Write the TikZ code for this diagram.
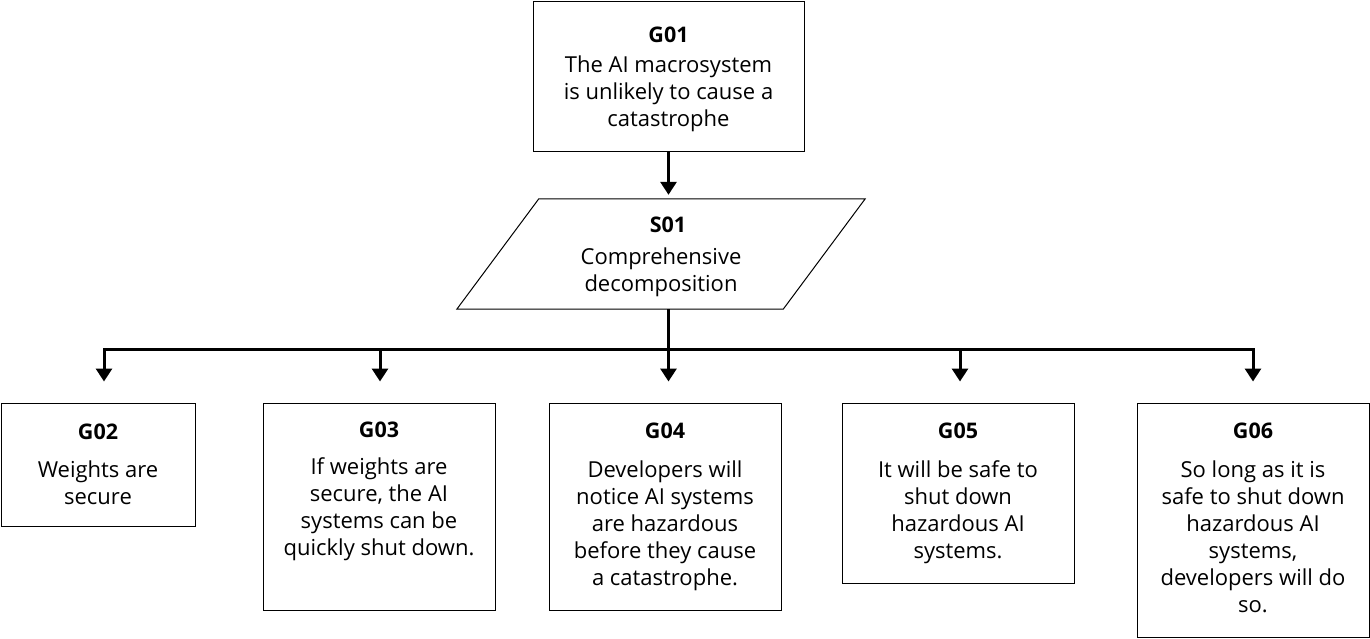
\documentclass[tikz,border=0pt]{standalone}
\usepackage{fontspec}
\setmainfont{Open Sans}
\usetikzlibrary{arrows.meta,calc}
\tikzset{
  box/.style={draw=black, line width=1pt, inner sep=0pt, fill=white},
  ghost/.style={inner sep=0pt},
  lbl/.style={font=\fontsize{21.5}{27}\selectfont\bfseries, inner sep=0pt, anchor=base},
  body/.style={font=\fontsize{22}{27}\selectfont, align=center, inner sep=0pt, anchor=north},
  conn/.style={line width=3pt},
  arr/.style={line width=3pt, -{Triangle[width=16pt,length=13pt]}}
}
\begin{document}
\begin{tikzpicture}[x=1pt,y=-1pt]
\useasboundingbox (0,0) rectangle (1370,638);
% G01
\node[box, minimum width=271pt, minimum height=150pt] (g1) at (668.5,76) {};
\node[lbl] (g1l) at ([yshift=-41.5pt]g1.north) {G01};
\node[body] (g1b) at ([yshift=-52.6pt]g1.north) {\strut The AI macrosystem\\is unlikely to cause a\\catastrophe};
% S01
\node[ghost, minimum width=408pt, minimum height=110pt] (s1) at (661,254) {};
\draw[line width=1pt] ($(s1.north west)+(82,0)$) -- (s1.north east) -- ($(s1.south east)-(82,0)$) -- (s1.south west) -- cycle;
\node[lbl] (s1l) at ([xshift=7pt,yshift=-33.5pt]s1.north) {S01};
\node[body] (s1b) at ([yshift=-46.1pt]s1.north) {\strut Comprehensive\\decomposition};
% bottom boxes
\node[box, minimum width=194pt, minimum height=123pt] (g2) at (98,464.5) {};
\node[lbl] (g2l) at ([yshift=-37pt]g2.north) {G02};
\node[body] (g2b) at ([yshift=-55.6pt]g2.north) {\strut Weights are\\secure};

\node[box, minimum width=232pt, minimum height=207pt] (g3) at (379,506.5) {};
\node[lbl] (g3l) at ([yshift=-35pt]g3.north) {G03};
\node[body] (g3b) at ([yshift=-52.6pt]g3.north) {\strut If weights are\\secure, the AI\\systems can be\\quickly shut down.};

\node[box, minimum width=232pt, minimum height=207pt] (g4) at (665,506.5) {};
\node[lbl] (g4l) at ([yshift=-36pt]g4.north) {G04};
\node[body] (g4b) at ([yshift=-55.6pt]g4.north) {\strut Developers will\\notice AI systems\\are hazardous\\before they cause\\a catastrophe.};

\node[box, minimum width=232pt, minimum height=180pt] (g5) at (958,493) {};
\node[lbl] (g5l) at ([yshift=-36pt]g5.north) {G05};
\node[body] (g5b) at ([yshift=-55.6pt]g5.north) {\strut It will be safe to\\shut down\\hazardous AI\\systems.};

\node[box, minimum width=232pt, minimum height=234pt] (g6) at (1253,520) {};
\node[lbl] (g6l) at ([yshift=-36pt]g6.north) {G06};
\node[body] (g6b) at ([yshift=-55.6pt]g6.north) {\strut So long as it is\\safe to shut down\\hazardous AI\\systems,\\developers will do\\so.};
% connectors
\coordinate (bus) at (668.5,349);
\draw[arr] (g1.south) -- ([yshift=4pt]g1.south |- s1.north);
\draw[conn] (g1.south |- s1.south) -- (bus);
\draw[arr] (bus) -| ([xshift=6pt,yshift=21pt]g2.north);
\draw[arr] (bus) -| ([xshift=1pt,yshift=21pt]g3.north);
\draw[arr] (bus) -- ([xshift=3.5pt,yshift=21pt]g4.north);
\draw[arr] (bus) -| ([xshift=2pt,yshift=21pt]g5.north);
\draw[arr] (bus) -| ([yshift=21pt]g6.north);
\end{tikzpicture}
\end{document}
